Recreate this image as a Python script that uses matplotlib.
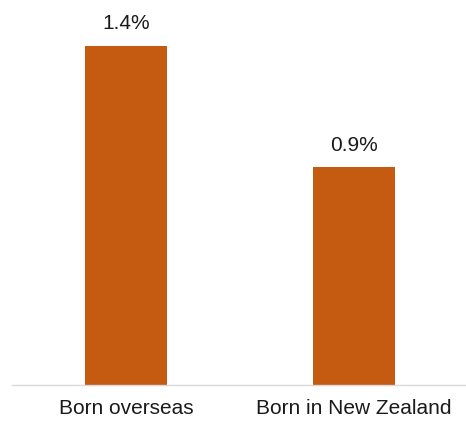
import matplotlib.pyplot as plt

categories = ["Born overseas", "Born in New Zealand"]
values = [1.4, 0.9]
labels = ["1.4%", "0.9%"]

plt.rcParams['font.family'] = ['Liberation Sans', 'DejaVu Sans']

fig = plt.figure(figsize=(4.66, 4.23), dpi=100)
ax = fig.add_axes([0.0258, 0.0887, 0.9742, 0.86])

x = range(len(categories))
bars = ax.bar(x, values, width=0.357, color='#C55A11')

for b, lab in zip(bars, labels):
    ax.annotate(lab, (b.get_x() + b.get_width() / 2, b.get_height()),
                xytext=(0, 9), textcoords='offset points',
                ha='center', va='bottom', fontsize=15, color='#1a1a1a')

ax.set_xlim(-0.5, 1.49)
ax.set_ylim(0, 1.5)
ax.set_xticks(list(x))
ax.set_xticklabels(categories, fontsize=15, color='#1a1a1a')
ax.tick_params(axis='x', length=0, pad=10)
ax.set_yticks([])
for s in ['top', 'right', 'left']:
    ax.spines[s].set_visible(False)
ax.spines['bottom'].set_color('#D9D9D9')
ax.spines['bottom'].set_linewidth(1)

fig.savefig("out.png", dpi=100)
